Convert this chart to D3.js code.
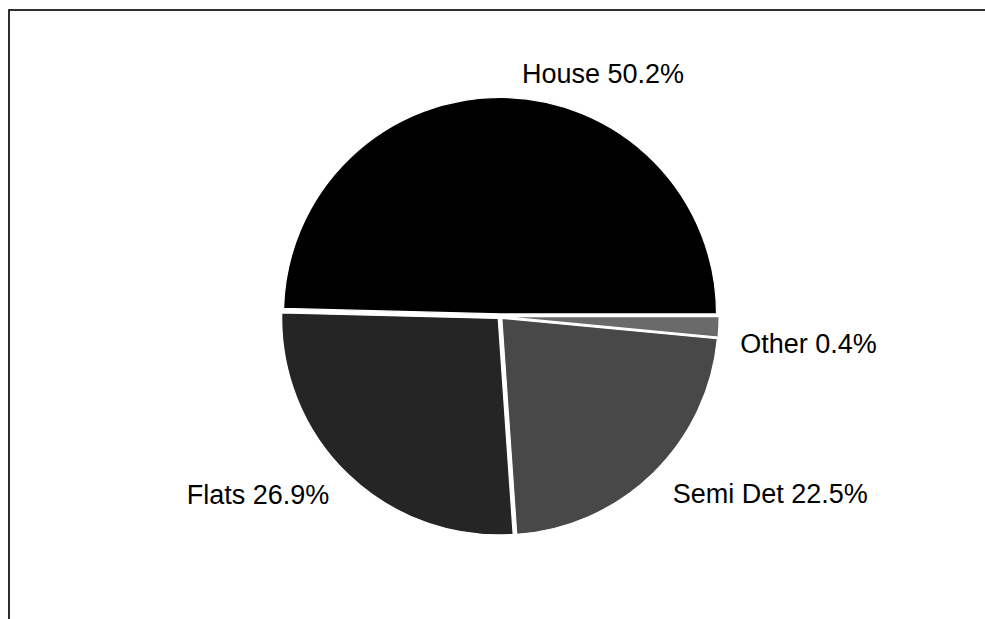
<!DOCTYPE html>
<html>
<head>
<meta charset="utf-8">
<script src="https://cdn.jsdelivr.net/npm/d3@7"></script>
<style>
  html, body { margin: 0; padding: 0; background: #fff; }
  svg { display: block; }
  text { font-family: "Liberation Sans", Arial, sans-serif; }
</style>
</head>
<body>
<svg id="chart" width="985" height="619"></svg>
<script>
// ---- data ----
const categories = ["House", "Flats", "Semi Det", "Other"];
const sliceShares = [49.6, 26.5, 22.4, 1.5];            // slice sizes as drawn
const percentLabels = ["50.2%", "26.9%", "22.5%", "0.4%"]; // printed labels
const sliceColors = ["#000000", "#252525", "#484848", "#6a6a6a"];

// ---- layout ----
const W = 985, H = 619;
const cx = 500, cy = 316.5, R = 216.5;
const explode = 2.6;
const labelNudge = [[19, -4.5], [-6, 6], [6.4, 6.5], [2.3, 16]];

const svg = d3.select("#chart");

// frame
svg.append("rect")
  .attr("x", 9).attr("y", 10)
  .attr("width", W + 20).attr("height", H + 20)
  .attr("fill", "none").attr("stroke", "#1a1a1a").attr("stroke-width", 1.8);

const data = categories.map((c, i) => ({ name: c, value: sliceShares[i], label: percentLabels[i], color: sliceColors[i] }));

const pie = d3.pie()
  .sort(null)
  .value(d => d.value)
  .startAngle(Math.PI / 2)
  .endAngle(Math.PI / 2 - 2 * Math.PI);

const arcs = pie(data);
const arc = d3.arc().innerRadius(0).outerRadius(R);

const g = svg.append("g").attr("transform", `translate(${cx},${cy})`);

g.selectAll("path.slice")
  .data(arcs)
  .join("path")
  .attr("class", "slice")
  .attr("d", arc)
  .attr("fill", d => d.data.color)
  .attr("stroke", "#ffffff")
  .attr("stroke-width", 1.2)
  .attr("transform", d => {
    const a = (d.startAngle + d.endAngle) / 2;
    return `translate(${explode * Math.sin(a)},${-explode * Math.cos(a)})`;
  });

// labels
g.selectAll("text.lbl")
  .data(arcs)
  .join("text")
  .attr("class", "lbl")
  .each(function (d, i) {
    const a = (d.startAngle + d.endAngle) / 2;
    const bx = 1.1 * R * Math.sin(a);
    const x = bx + labelNudge[i][0];
    const y = -1.1 * R * Math.cos(a) + labelNudge[i][1];
    d3.select(this)
      .attr("x", x).attr("y", y)
      .attr("dy", "0.35em")
      .attr("text-anchor", bx >= 0 ? "start" : "end")
      .text(`${d.data.name} ${d.data.label}`);
  })
  .attr("font-size", 27)
  .attr("fill", "#000");
</script>
</body>
</html>
